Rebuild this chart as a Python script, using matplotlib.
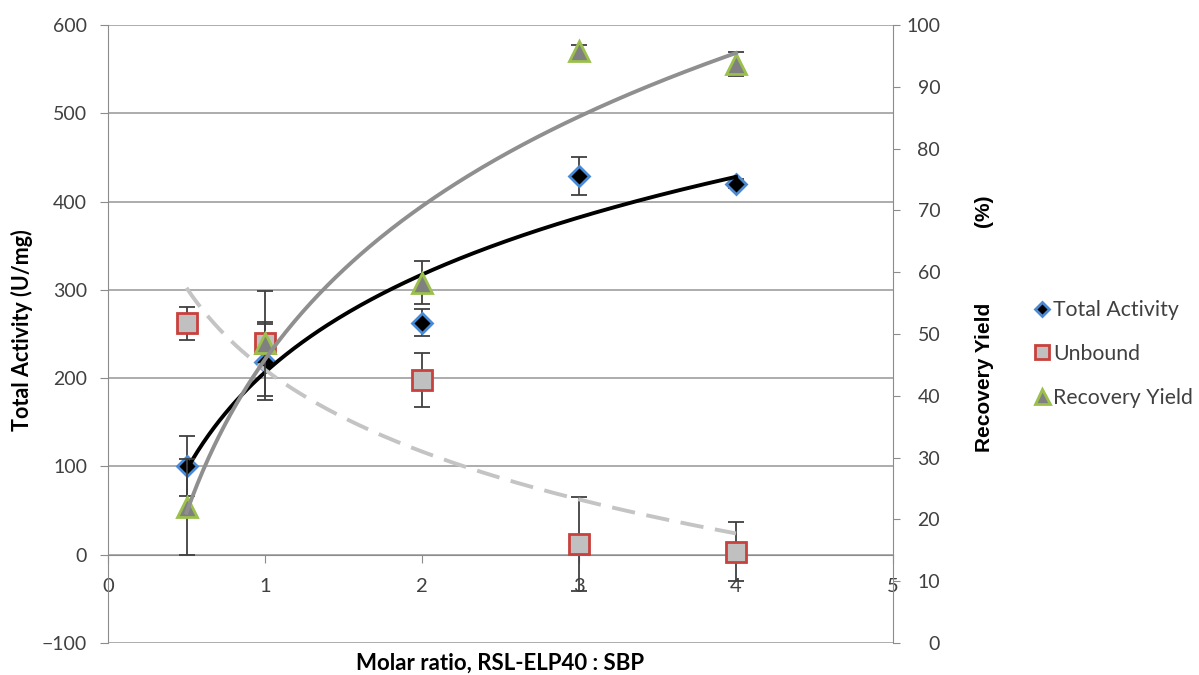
import numpy as np
import matplotlib
matplotlib.use("Agg")
import matplotlib.pyplot as plt

# Data
molar_ratio = [0.5, 1, 2, 3, 4]
total_activity = [100, 218, 263, 429, 420]
total_activity_err = [34, 43, 15, 21, 5]
unbound = [262, 240, 198, 12, 3.5]
unbound_err = [19, 24, 31, 53, 33]
recovery_yield = [22, 48.5, 58.3, 95.8, 93.7]
recovery_yield_err = [7.8, 8.5, 3.5, 1, 2]

x_ticks = [0, 1, 2, 3, 4, 5]
left_ticks = [-100, 0, 100, 200, 300, 400, 500, 600]
right_ticks = [0, 10, 20, 30, 40, 50, 60, 70, 80, 90, 100]

grid_c = '#a6a6a6'
spine_c = '#8c8c8c'
txt_c = '#404040'
err_c = '#404040'

plt.rcParams['font.family'] = ['Lato', 'DejaVu Sans']

fig = plt.figure(figsize=(11.99, 6.75), dpi=100)
ax = fig.add_axes([108/1199, 1-643/675, 785/1199, 618/675])
ax2 = ax.twinx()

x = np.array(molar_ratio, dtype=float)


def log_trend(xv, yv):
    # Excel-style logarithmic trendline
    a, b = np.polyfit(np.log(xv), yv, 1)
    xs = np.linspace(min(xv), max(xv), 200)
    return xs, a*np.log(xs) + b


# error bars
ax.errorbar(x, total_activity, yerr=total_activity_err, fmt='none', ecolor=err_c,
            elinewidth=1.3, capsize=5.5, capthick=1.3, zorder=2)
ax.errorbar(x, unbound, yerr=unbound_err, fmt='none', ecolor=err_c,
            elinewidth=1.3, capsize=5.5, capthick=1.3, zorder=2)
ax2.errorbar(x, recovery_yield, yerr=recovery_yield_err, fmt='none', ecolor=err_c,
             elinewidth=1.3, capsize=5.5, capthick=1.3, zorder=2)

# markers
h1, = ax.plot(x, total_activity, linestyle='none', marker='D', ms=10.5,
              mfc='black', mec='#4a8ad4', mew=2, zorder=3, label='Total Activity')
h2, = ax.plot(x, unbound, linestyle='none', marker='s', ms=14,
              mfc='#c0c0c0', mec='#c8413c', mew=2, zorder=3, label='Unbound')
h3, = ax2.plot(x, recovery_yield, linestyle='none', marker='^', ms=15,
               mfc='#808080', mec='#9bc14c', mew=2, zorder=3, label='Recovery Yield')

# logarithmic trend lines
xs, ys = log_trend(x, total_activity)
ax.plot(xs, ys, color='black', lw=2.8, zorder=4)
xs, ys = log_trend(x, unbound)
ax.plot(xs, ys, color='#c4c4c4', lw=2.8, ls=(0, (6, 3)), zorder=4)
xs, ys = log_trend(x, recovery_yield)
ax2.plot(xs, ys, color='#8f8f8f', lw=2.8, zorder=4)

# axes setup
ax.set_xlim(0, 5)
ax.set_ylim(-100, 600)
ax2.set_ylim(0, 100)
ax.set_xticks(x_ticks)
ax.set_yticks(left_ticks)
ax2.set_yticks(right_ticks)

ax.yaxis.grid(True, color=grid_c, lw=1.3)
ax.set_axisbelow(True)

ax.spines['bottom'].set_position(('data', 0))
ax.spines['bottom'].set_color(spine_c)
ax.spines['left'].set_color(spine_c)
ax.spines['top'].set_visible(False)
ax.spines['right'].set_visible(False)
for s in ['left', 'top', 'bottom']:
    ax2.spines[s].set_visible(False)
ax2.spines['right'].set_color(spine_c)

ax.tick_params(axis='x', direction='out', length=6, color=spine_c, pad=11,
               labelsize=14.5, labelcolor=txt_c)
ax.tick_params(axis='y', direction='out', length=6, color=spine_c, pad=9,
               labelsize=14, labelcolor=txt_c)
ax2.tick_params(axis='y', direction='out', length=5, color=spine_c, pad=29,
                labelsize=14, labelcolor=txt_c)
for lab in ax2.get_yticklabels():
    lab.set_horizontalalignment('right')

ax.text(-0.1096, 0.506, 'Total Activity (U/mg)', transform=ax.transAxes,
        rotation=90, ha='center', va='center', fontsize=15.5, fontweight='bold')
ax2.text(1.117, (643-452)/618, 'Recovery Yield' + ' '*13 + '(%)', transform=ax.transAxes,
         rotation=90, ha='left', va='center', rotation_mode='anchor',
         fontsize=15, fontweight='bold', family=['Liberation Sans', 'DejaVu Sans'])
ax.text(0.5, -0.032, 'Molar ratio, RSL-ELP40 : SBP', transform=ax.transAxes,
        ha='center', va='center', fontsize=16, fontweight='bold')

fig.legend(handles=[h1, h2, h3], loc='upper left', bbox_to_anchor=(0.856, 0.568),
           frameon=False, fontsize=15.3, markerscale=0.72, handlelength=0.65,
           handletextpad=0.2, labelspacing=1.12, borderaxespad=0,
           labelcolor=txt_c)

plt.savefig('out.png', dpi=100)
